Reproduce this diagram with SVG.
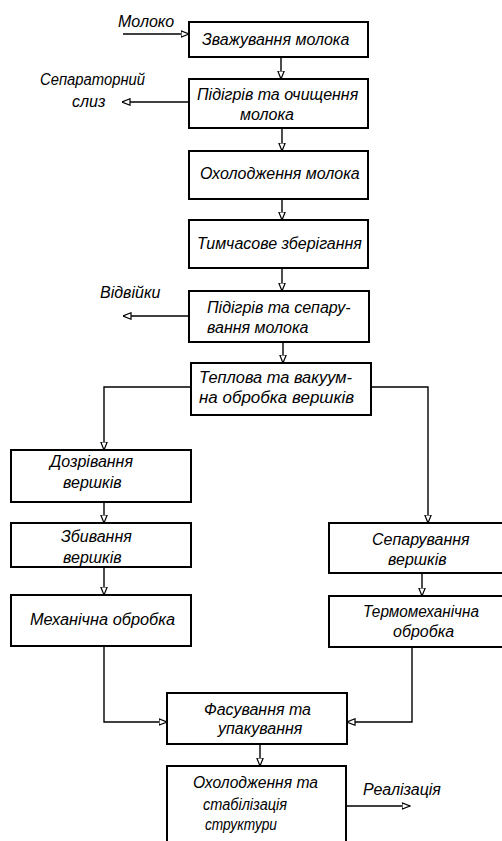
<svg xmlns="http://www.w3.org/2000/svg" width="502" height="841" viewBox="0 0 502 841">
<style>
.box{fill:#fff;stroke:#000;stroke-width:2}
.t{font-family:"Liberation Sans",Arial,sans-serif;font-style:italic;font-size:16px;fill:#000}
.c{fill:none;stroke:#000;stroke-width:1.4}
</style>
<defs>
<marker id="ah" viewBox="0 0 9 8" refX="8.5" refY="4" markerWidth="9" markerHeight="8" markerUnits="userSpaceOnUse" orient="auto">
<path d="M0.5,0.8 L8.5,4 L0.5,7.2 Z" fill="#fff" stroke="#000" stroke-width="1.2"/>
</marker>
</defs>
<rect width="502" height="841" fill="#fff"/>
<g id="connectors">
<path class="c" d="M123,34 H189" marker-end="url(#ah)"/>
<path class="c" d="M281,57 V79" marker-end="url(#ah)"/>
<path class="c" d="M189,102 H122" marker-end="url(#ah)"/>
<path class="c" d="M282,128 V151" marker-end="url(#ah)"/>
<path class="c" d="M282,199 V220" marker-end="url(#ah)"/>
<path class="c" d="M282,268 V291" marker-end="url(#ah)"/>
<path class="c" d="M189,316 H123" marker-end="url(#ah)"/>
<path class="c" d="M283,342 V363" marker-end="url(#ah)"/>
<path class="c" d="M191,387 H104 V450" marker-end="url(#ah)"/>
<path class="c" d="M371,387 H428 V523" marker-end="url(#ah)"/>
<path class="c" d="M104,502 V523" marker-end="url(#ah)"/>
<path class="c" d="M104,567 V595" marker-end="url(#ah)"/>
<path class="c" d="M422,573 V596" marker-end="url(#ah)"/>
<path class="c" d="M104,646 V722 H167" marker-end="url(#ah)"/>
<path class="c" d="M412,647 V722 H347" marker-end="url(#ah)"/>
<path class="c" d="M260,744 V766" marker-end="url(#ah)"/>
<path class="c" d="M346,806 H410" marker-end="url(#ah)"/>
</g>
<g id="labels">
<text class="t" x="118" y="27">Молоко</text>
<text class="t" x="40" y="85" textLength="105" lengthAdjust="spacingAndGlyphs">Сепараторний</text>
<text class="t" x="72" y="107">слиз</text>
<text class="t" x="100" y="298">Відвійки</text>
<text class="t" x="363" y="795">Реалізація</text>
</g>
<g id="n1"><rect class="box" x="189" y="22" width="179" height="35"/><text class="t" x="202" y="45">Зважування молока</text></g>
<g id="n2"><rect class="box" x="189" y="79" width="179" height="49"/><text class="t" x="197" y="100">Підігрів та очищення</text><text class="t" x="240" y="120">молока</text></g>
<g id="n3"><rect class="box" x="189" y="151" width="179" height="48"/><text class="t" x="200" y="179">Охолодження молока</text></g>
<g id="n4"><rect class="box" x="189" y="220" width="179" height="48"/><text class="t" x="197" y="249">Тимчасове зберігання</text></g>
<g id="n5"><rect class="box" x="189" y="291" width="180" height="51"/><text class="t" x="207" y="313">Підігрів та сепару-</text><text class="t" x="207" y="333">вання молока</text></g>
<g id="n6"><rect class="box" x="191" y="363" width="180" height="52"/><text class="t" x="199" y="383" textLength="153" lengthAdjust="spacingAndGlyphs">Теплова та вакуум-</text><text class="t" x="199" y="403" textLength="155" lengthAdjust="spacingAndGlyphs">на обробка вершків</text></g>
<g id="n7"><rect class="box" x="11" y="450" width="180" height="52"/><text class="t" x="50" y="467">Дозрівання</text><text class="t" x="63" y="488">вершків</text></g>
<g id="n8"><rect class="box" x="11" y="523" width="180" height="44"/><text class="t" x="61" y="542">Збивання</text><text class="t" x="63" y="563">вершків</text></g>
<g id="n9"><rect class="box" x="11" y="595" width="180" height="51"/><text class="t" x="30" y="625" textLength="145" lengthAdjust="spacingAndGlyphs">Механічна обробка</text></g>
<g id="n10"><rect class="box" x="329" y="523" width="182" height="50"/><text class="t" x="372" y="545">Сепарування</text><text class="t" x="388" y="565">вершків</text></g>
<g id="n11"><rect class="box" x="329" y="596" width="182" height="51"/><text class="t" x="363" y="617" textLength="116" lengthAdjust="spacingAndGlyphs">Термомеханічна</text><text class="t" x="393" y="637">обробка</text></g>
<g id="n12"><rect class="box" x="167" y="693" width="180" height="51"/><text class="t" x="204" y="715">Фасування та</text><text class="t" x="218" y="734">упакування</text></g>
<g id="n13"><rect class="box" x="167" y="766" width="179" height="90"/><text class="t" x="193" y="788" textLength="125" lengthAdjust="spacingAndGlyphs">Охолодження та</text><text class="t" x="203" y="810" textLength="84" lengthAdjust="spacingAndGlyphs">стабілізація</text><text class="t" x="205" y="830" textLength="72" lengthAdjust="spacingAndGlyphs">структури</text></g>
</svg>
